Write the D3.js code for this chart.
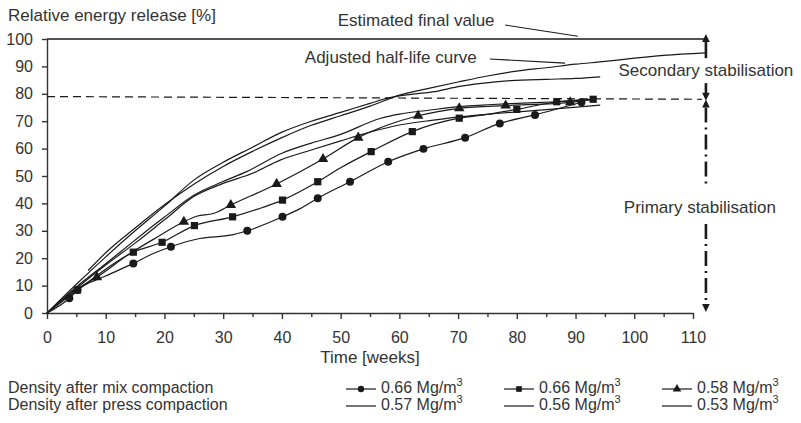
<!DOCTYPE html>
<html>
<head>
<meta charset="utf-8">
<title>Relative energy release</title>
<script src="https://cdn.jsdelivr.net/npm/d3@7"></script>
<style>
body { margin: 0; background: #fff; }
svg { display: block; font-family: "Liberation Sans", Arial, Helvetica, sans-serif; }
.tick text { font-size: 16px; fill: #333; }
.lbl { font-size: 17px; fill: #333; }
.leg { font-size: 16px; fill: #333; }
</style>
</head>
<body>
<div id="chart"></div>
<script>

// tick labels
const xTickLabels = [0, 10, 20, 30, 40, 50, 60, 70, 80, 90, 100, 110];
const xMinorTicks = [5, 15, 25, 35, 45, 55, 65, 75, 85, 95, 105];
const yTickLabels = [0, 10, 20, 30, 40, 50, 60, 70, 80, 90, 100];

// mix compaction series: [week, value, marker]
const mix066circle = [[0,0],[3.8,5.4,1],[5.2,8.4,1],[10,13.5],[14.7,18.1,1],[18,21.6],[21.1,24.2,1],[26,27.2],[31.5,28.5],[34.1,30.0,1],[40.1,35.1,1],[43,38],[46.1,41.9,1],[51.6,47.9,1],[58.1,55.2,1],[64.1,59.9,1],[71.2,64.0,1],[77.1,69.2,1],[83.1,72.3,1],[91.0,76.9,1]];
const mix066square = [[0,0],[5.2,8.4,1],[14.7,22.2,1],[19.6,25.8,1],[25.1,31.9,1],[31.6,35.1,1],[36,38],[40.1,41.2,1],[46.1,47.9,1],[50,53],[55.2,58.9,1],[62.2,66.2,1],[66,69],[70.2,71.1,1],[75,72.5],[80.0,74.3,1],[86.8,77.1,1],[93.0,78.0,1]];
const mix058triangle = [[0,0],[5,8.6],[8.5,13.1,1],[14,21.5],[19,28],[23.3,33.3,1],[25.5,35.3],[28.3,36.3],[31.3,39.4,1],[39.1,47.1,1],[47.0,56.2,1],[53.0,64.0,1],[58,68.6],[63.2,72.0,1],[70.2,74.7,1],[78.1,75.7,1],[84,76.2],[89.1,76.9,1],[91.5,77.4]];

// press compaction series
const press057 = [[0,0],[5,10.5],[10,20.5],[15,30],[20,39],[25,48.5],[30,55],[35,60.5],[40,66],[45,70],[50,73.2],[55,76.5],[58,78.4],[62,79.8],[66,80.8],[70,82.6],[74,83.8],[79,84.8],[85,85.3],[90,85.6],[94.2,86.2]];
const press056 = [[0,0],[5,9.5],[10,18],[15,26.6],[20,35],[25,43],[30,48],[34,51.6],[40,58.3],[45,62],[50,65.2],[56.7,71],[60,72.6],[65,74],[70,75.3],[75,76],[80,76.5],[87,77.1],[93,77.8]];
const press053 = [[0,0],[5,9],[10,17.5],[15,25.5],[20,34],[25,42.5],[30,47.3],[35,51],[39.7,55.8],[45,59.5],[50,62.8],[55,66],[60,68.6],[65.8,70.4],[70.2,71.6],[77.1,72.9],[85,74.2],[94.2,75.9]];

// adjusted half-life curve and reference levels
const halfLife = [[7,15.5],[10,22],[15,31],[20,39.5],[25,47],[30,53.5],[35,59],[40,64],[45,68.5],[50,72],[55,75.5],[60,79.5],[65,82],[70,84.3],[75,86.5],[80,88.3],[85,89.5],[90,90.8],[95,91.8],[100,93],[105,94],[112.2,94.9]];
const finalValue = [[0,100],[112.2,100]];
const stabilLevel = [[0,79],[111.5,78]];

const legendNames = ["Density after mix compaction", "Density after press compaction"];
const legendMix = ["0.66", "0.66", "0.58"];
const legendPress = ["0.57", "0.56", "0.53"];

const W = 801, H = 423;
const svg = d3.select("#chart").append("svg").attr("width", W).attr("height", H);

const x = d3.scaleLinear().domain([0, 110]).range([47, 693]);
const y = d3.scaleLinear().domain([0, 100]).range([313, 39]);
const ink = "#1a1a1a";

// axes
const gx = svg.append("g").attr("transform", "translate(0," + y(0) + ")")
    .call(d3.axisBottom(x).tickValues(xTickLabels.concat(xMinorTicks)).tickSize(6).tickSizeOuter(0)
        .tickFormat(d => xTickLabels.includes(d) ? d : ""));
gx.selectAll(".tick line").filter(d => xMinorTicks.includes(d)).attr("y2", 4);
gx.selectAll(".tick text").attr("y", 30).attr("dy", 0);

const gy = svg.append("g").attr("transform", "translate(" + x(0) + ",0)")
    .call(d3.axisLeft(y).tickValues(yTickLabels).tickSize(5).tickSizeOuter(0).tickPadding(9));

svg.selectAll(".domain, .tick line").attr("stroke", "#333").attr("stroke-width", 1.4);

svg.append("text").attr("class", "lbl").attr("x", 8).attr("y", 21).text("Relative energy release [%]");
svg.append("text").attr("class", "lbl").attr("x", x(55)).attr("y", 363).attr("text-anchor", "middle").text("Time [weeks]");

// lines
const line = d3.line().x(d => x(d[0])).y(d => y(d[1])).curve(d3.curveMonotoneX);
const straight = d3.line().x(d => x(d[0])).y(d => y(d[1]));

svg.append("path").attr("d", straight(stabilLevel)).attr("fill", "none")
    .attr("stroke", ink).attr("stroke-width", 1.2).attr("stroke-dasharray", "8,5");
svg.append("path").attr("d", straight(finalValue)).attr("fill", "none")
    .attr("stroke", ink).attr("stroke-width", 1.3);

[press057, press056, press053, halfLife, mix066circle, mix066square, mix058triangle].forEach(s => {
    svg.append("path").attr("d", line(s)).attr("fill", "none")
        .attr("stroke", ink).attr("stroke-width", 1.2);
});

const sym = {
    circle: d3.symbol().type(d3.symbolCircle).size(50),
    square: d3.symbol().type(d3.symbolSquare).size(52),
    triangle: d3.symbol().type(d3.symbolTriangle).size(48)
};
function markers(data, kind) {
    svg.append("g").selectAll("path").data(data.filter(d => d[2])).join("path")
        .attr("transform", d => "translate(" + x(d[0]) + "," + y(d[1]) + ")")
        .attr("d", sym[kind]).attr("fill", ink);
}
markers(mix066circle, "circle");
markers(mix066square, "square");
markers(mix058triangle, "triangle");

// annotations
const ax = x(112.2);
function head(tipV, dir) {
    const ty = y(tipV);
    svg.append("path").attr("fill", ink)
        .attr("d", "M" + ax + "," + ty + "L" + (ax - 3.8) + "," + (ty - dir * 8) + "L" + (ax + 3.8) + "," + (ty - dir * 8) + "Z");
}
function vseg(v1, v2, dash) {
    svg.append("line").attr("x1", ax).attr("x2", ax).attr("y1", y(v1)).attr("y2", y(v2))
        .attr("stroke", ink).attr("stroke-width", 2.6).attr("stroke-dasharray", dash || null);
}
head(101.8, -1);
vseg(99.2, 93);
vseg(83.9, 78.8);
head(77.5, 1);
head(77.9, -1);
vseg(75, 45.6, "15,5,2,5");
vseg(32.5, 3.5, "15,5,2,5");
head(0.4, 1);

svg.append("text").attr("class", "lbl").attr("x", x(49.5)).attr("y", 26).text("Estimated final value");
svg.append("path").attr("d", straight([[78, 105.1], [90.4, 101]])).attr("stroke", ink).attr("stroke-width", 1.1);
svg.append("text").attr("class", "lbl").attr("x", x(43.9)).attr("y", 63).text("Adjusted half-life curve");
svg.append("path").attr("d", straight([[75.4, 92.7], [88.2, 91.2]])).attr("stroke", ink).attr("stroke-width", 1.1);
svg.append("text").attr("class", "lbl").attr("x", ax).attr("y", 76).attr("text-anchor", "middle").text("Secondary stabilisation");
svg.append("text").attr("class", "lbl").attr("x", ax - 6).attr("y", 213).attr("text-anchor", "middle").text("Primary stabilisation");

// legend
const rowY = [393, 410];
const entryX = [346, 504, 662];
const legKinds = [d3.symbolCircle, d3.symbolSquare, d3.symbolTriangle];
legendNames.forEach((n, i) => {
    svg.append("text").attr("class", "leg").attr("x", 8).attr("y", rowY[i]).text(n);
});
[legendMix, legendPress].forEach((vals, r) => {
    vals.forEach((v, i) => {
        const ly = rowY[r] - 4;
        svg.append("line").attr("x1", entryX[i]).attr("x2", entryX[i] + 30).attr("y1", ly).attr("y2", ly)
            .attr("stroke", ink).attr("stroke-width", 1.2);
        if (r === 0) {
            svg.append("path").attr("transform", "translate(" + (entryX[i] + 15) + "," + ly + ")")
                .attr("d", d3.symbol().type(legKinds[i]).size(32))
                .attr("fill", ink);
        }
        const t = svg.append("text").attr("class", "leg").attr("x", entryX[i] + 35).attr("y", rowY[r]);
        t.append("tspan").text(v + " Mg/m");
        t.append("tspan").attr("font-size", 11).attr("dy", -7).text("3");
    });
});

</script>
</body>
</html>
